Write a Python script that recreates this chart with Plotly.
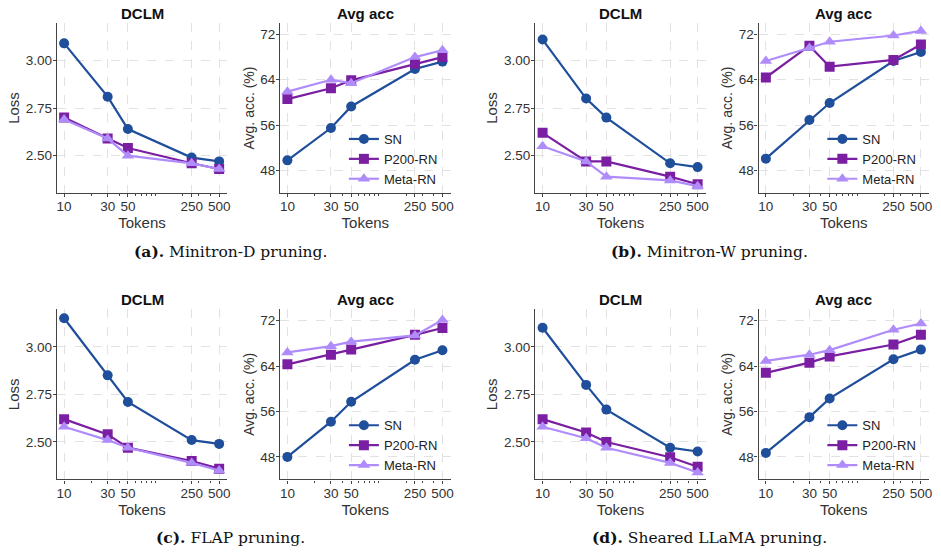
import plotly.graph_objects as go

tokens = [10, 30, 50, 250, 500]
series_names = ["SN", "P200-RN", "Meta-RN"]

# (a) Minitron-D
a_loss_sn = [3.09, 2.81, 2.64, 2.49, 2.47]
a_loss_p200 = [2.70, 2.59, 2.54, 2.46, 2.43]
a_loss_meta = [2.69, 2.59, 2.50, 2.46, 2.43]
a_acc_sn = [49.8, 55.5, 59.3, 65.9, 67.2]
a_acc_p200 = [60.6, 62.5, 63.9, 66.8, 68.0]
a_acc_meta = [61.9, 64.0, 63.4, 68.0, 69.2]

# (b) Minitron-W
b_loss_sn = [3.11, 2.80, 2.70, 2.46, 2.44]
b_loss_p200 = [2.62, 2.47, 2.47, 2.39, 2.35]
b_loss_meta = [2.55, 2.47, 2.39, 2.37, 2.34]
b_acc_sn = [50.1, 56.9, 59.9, 67.3, 68.9]
b_acc_p200 = [64.4, 70.0, 66.3, 67.5, 70.2]
b_acc_meta = [67.3, 69.6, 70.7, 71.8, 72.6]

# (c) FLAP
c_loss_sn = [3.15, 2.85, 2.71, 2.51, 2.49]
c_loss_p200 = [2.62, 2.54, 2.47, 2.40, 2.36]
c_loss_meta = [2.58, 2.51, 2.47, 2.39, 2.35]
c_acc_sn = [48.0, 54.2, 57.7, 65.1, 66.8]
c_acc_p200 = [64.3, 66.0, 66.9, 69.5, 70.7]
c_acc_meta = [66.4, 67.5, 68.3, 69.4, 72.1]

# (d) Sheared LLaMA
d_loss_sn = [3.10, 2.80, 2.67, 2.47, 2.45]
d_loss_p200 = [2.62, 2.55, 2.50, 2.42, 2.37]
d_loss_meta = [2.58, 2.52, 2.47, 2.39, 2.34]
d_acc_sn = [48.7, 55.0, 58.3, 65.2, 66.9]
d_acc_p200 = [62.8, 64.6, 65.7, 67.8, 69.5]
d_acc_meta = [64.9, 66.0, 66.8, 70.4, 71.5]

captions = ["Minitron-D pruning.", "Minitron-W pruning.", "FLAP pruning.", "Sheared LLaMA pruning."]
caption_tags = ["(a).", "(b).", "(c).", "(d)."]

loss_ticks = [2.50, 2.75, 3.00]
acc_ticks = [48, 56, 64, 72]
x_ticks = [10, 30, 50, 250, 500]
x_minor = [20, 40, 60, 70, 80, 90, 100, 200, 300, 400]

colors = ["#1f4e9b", "#7a1fa2", "#b08cfb"]
symbols = ["circle", "square", "triangle-up"]

W, H = 941, 554
FONT = "Arial, Liberation Sans, sans-serif"

fig = go.Figure()

groups = [
    (a_loss_sn, a_loss_p200, a_loss_meta, a_acc_sn, a_acc_p200, a_acc_meta),
    (b_loss_sn, b_loss_p200, b_loss_meta, b_acc_sn, b_acc_p200, b_acc_meta),
    (c_loss_sn, c_loss_p200, c_loss_meta, c_acc_sn, c_acc_p200, c_acc_meta),
    (d_loss_sn, d_loss_p200, d_loss_meta, d_acc_sn, d_acc_p200, d_acc_meta),
]

col_px = [((57, 228), (281, 452)), ((537, 708), (761, 932))]
row_px = [(23, 193), (309.3, 479.3)]

def xd(p):
    return [p[0] / W, p[1] / W]

def yd(p):
    return [1 - p[1] / H, 1 - p[0] / H]

axis_common = dict(
    showline=True, linecolor="#444", linewidth=1.4, mirror=False,
    ticks="outside", ticklen=3, tickcolor="#444",
    showgrid=True, gridcolor="#e2e2e2", griddash="dash", gridwidth=1,
    zeroline=False,
    tickfont=dict(family=FONT, size=13.5, color="#333"),
    ticklabelstandoff=-2,
)

for gi, grp in enumerate(groups):
    row = gi // 2
    col = gi % 2
    loss_px, acc_px = col_px[col]
    rp = row_px[row]
    for pi in range(2):
        idx = gi * 2 + pi + 1
        xa = "x" if idx == 1 else f"x{idx}"
        ya = "y" if idx == 1 else f"y{idx}"
        xkey = "xaxis" if idx == 1 else f"xaxis{idx}"
        ykey = "yaxis" if idx == 1 else f"yaxis{idx}"
        dom_x = xd(loss_px if pi == 0 else acc_px)
        vals = grp[0:3] if pi == 0 else grp[3:6]
        legname = "legend" if gi == 0 else f"legend{gi + 1}"
        for si in range(3):
            fig.add_trace(go.Scatter(
                x=tokens, y=vals[si], mode="lines+markers", name=series_names[si],
                line=dict(color=colors[si], width=2.2),
                marker=dict(symbol=symbols[si], size=10 if si < 2 else 11, color=colors[si]),
                xaxis=xa, yaxis=ya,
                showlegend=(pi == 1), legend=legname,
            ))
        fig.layout[xkey] = dict(
            axis_common, type="log", domain=dom_x, anchor=ya,
            range=[0.92, 2.788], tickmode="array", tickvals=x_ticks,
            ticktext=[str(t) for t in x_ticks],
            minor=dict(tickmode="array", tickvals=x_minor, ticks="outside", ticklen=2,
                       tickcolor="#444", showgrid=False),
            title=dict(text="Tokens", font=dict(family=FONT, size=15, color="#333"), standoff=0),
        )
        if pi == 0:
            yax = dict(axis_common, domain=yd(rp), anchor=xa, range=[2.304, 3.197],
                       tickmode="array", tickvals=loss_ticks,
                       ticktext=[f"{v:.2f}" for v in loss_ticks],
                       title=dict(text="Loss", font=dict(family=FONT, size=15, color="#333"), standoff=2))
            title_txt = "DCLM"
        else:
            yax = dict(axis_common, domain=yd(rp), anchor=xa, range=[44.05, 74.0],
                       tickmode="array", tickvals=acc_ticks,
                       ticktext=[str(v) for v in acc_ticks],
                       title=dict(text="Avg. acc. (%)", font=dict(family=FONT, size=14, color="#333"), standoff=2))
            title_txt = "Avg acc"
        fig.layout[ykey] = yax
        fig.add_annotation(
            x=(dom_x[0] + dom_x[1]) / 2, y=1 - (rp[0] - 10) / H, xref="paper", yref="paper",
            text=f"<b>{title_txt}</b>", showarrow=False, xanchor="center", yanchor="middle",
            font=dict(family=FONT, size=15, color="#111"),
        )
    legname = "legend" if gi == 0 else f"legend{gi + 1}"
    fig.layout[legname] = dict(
        x=(acc_px[0] + 64) / W, y=1 - (rp[0] + 101) / H, xanchor="left", yanchor="top",
        bgcolor="rgba(0,0,0,0)", borderwidth=0,
        font=dict(family=FONT, size=13, color="#222"), tracegroupgap=0,
    )
    cx = (loss_px[0] + acc_px[1]) / 2 - 23
    cy = rp[1] + 58.5
    fig.add_annotation(
        x=cx / W, y=1 - cy / H, xref="paper", yref="paper",
        text=f"<b>{caption_tags[gi]}</b> {captions[gi]}", showarrow=False,
        xanchor="center", yanchor="middle",
        font=dict(family="DejaVu Serif, Liberation Serif, serif", size=15.5, color="#111"),
    )

fig.update_layout(
    width=W, height=H, margin=dict(l=0, r=0, t=0, b=0),
    paper_bgcolor="white", plot_bgcolor="white",
)

fig.write_html("out.html")
